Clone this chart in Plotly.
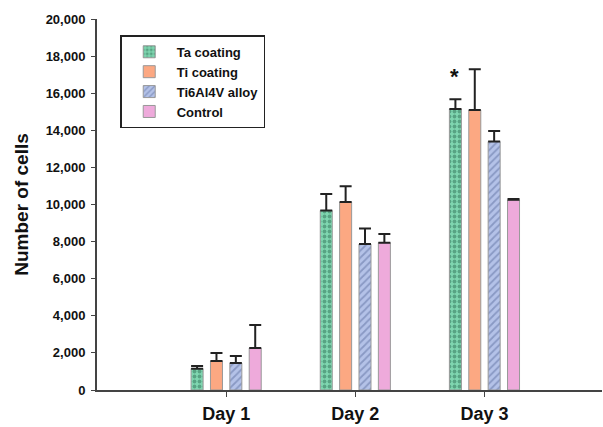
import plotly.graph_objects as go

days = ["Day 1", "Day 2", "Day 3"]
series = ["Ta coating", "Ti coating", "Ti6Al4V alloy", "Control"]
ta = [1150, 9670, 15150]
ta_err = [150, 900, 520]
ti = [1560, 10130, 15090]
ti_err = [440, 860, 2200]
ti64 = [1450, 7870, 13390]
ti64_err = [380, 830, 570]
ctrl = [2260, 7940, 10250]
ctrl_err = [1240, 470, 40]
yticks = [0, 2000, 4000, 6000, 8000, 10000, 12000, 14000, 16000, 18000, 20000]

values = [ta, ti, ti64, ctrl]
errors = [ta_err, ti_err, ti64_err, ctrl_err]
colors = ["#7fd6b0", "#fca882", "#b4c2e8", "#eeaadb"]
patterns = [
    dict(shape=".", fgcolor="#2f6f55", size=5, solidity=0.45, fillmode="overlay"),
    dict(shape=""),
    dict(shape="/", fgcolor="#5e6fa0", size=5, solidity=0.35, fillmode="overlay"),
    dict(shape=""),
]

xpos = list(range(len(days)))
fig = go.Figure()
for name, v, e, c, p in zip(series, values, errors, colors, patterns):
    fig.add_trace(go.Bar(
        x=xpos, y=v, name="<b>%s</b>" % name,
        marker=dict(color=c, line=dict(color="#999999", width=1), pattern=p),
        error_y=dict(type="data", symmetric=False, array=e, arrayminus=[0]*len(e),
                     color="#222222", thickness=2, width=6),
    ))

fig.add_annotation(x=2, y=16900, text="<b>*</b>", showarrow=False, xshift=-30,
                   font=dict(size=22, color="#111111", family="Liberation Sans"))

fig.update_layout(
    width=603, height=427,
    margin=dict(l=97, r=1, t=19, b=37),
    plot_bgcolor="white", paper_bgcolor="white",
    barmode="group", bargap=0.4, bargroupgap=0.38,
    font=dict(family="Liberation Sans", color="#111111"),
    showlegend=True,
    legend=dict(x=0.046, y=0.956, xanchor="left", yanchor="top",
                bordercolor="#222222", borderwidth=1.5, bgcolor="white",
                font=dict(size=13, family="Liberation Sans", color="#111111"),
                tracegroupgap=0, itemwidth=45),
    xaxis=dict(range=[-1.0, 2.91], tickvals=xpos, ticktext=["<b>%s</b>" % d for d in days],
               showline=True, linecolor="#444444", linewidth=2, ticks="outside",
               ticklen=5, tickcolor="#444444", tickfont=dict(size=18), showgrid=False,
               zeroline=False, ticklabelstandoff=1, automargin=False),
    yaxis=dict(range=[0, 20000], tickvals=yticks,
               ticktext=["<b>{:,}</b>".format(t) for t in yticks],
               showline=True, linecolor="#444444", linewidth=2, ticks="outside",
               ticklen=4, tickcolor="#444444", tickfont=dict(size=13), showgrid=False,
               zeroline=False, ticklabelstandoff=3, automargin=False,
               title=dict(text="<b>Number of cells</b>", font=dict(size=19), standoff=12)),
)

fig.write_html("out.html")
